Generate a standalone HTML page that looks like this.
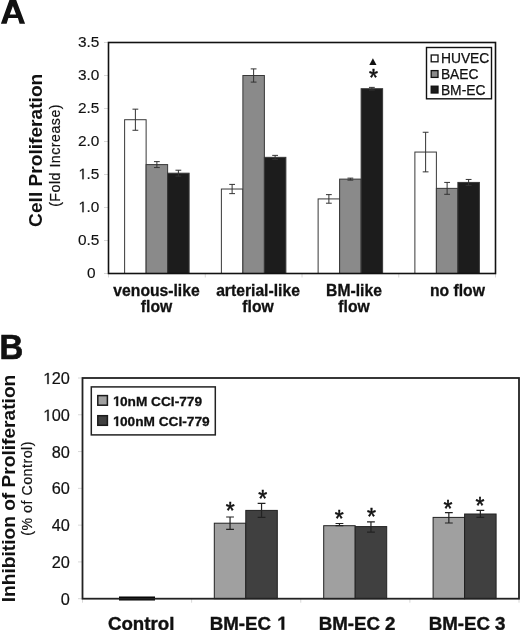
<!DOCTYPE html>
<html><head><meta charset="utf-8"><title>Figure</title>
<style>
html,body{margin:0;padding:0;background:#fff;width:520px;height:630px;overflow:hidden}
svg{display:block;font-family:"Liberation Sans", sans-serif;filter:grayscale(1)}
text{fill:#111}
</style></head><body>
<svg width="520" height="630" viewBox="0 0 520 630">
<path d="M9.6 -0.5H16L25.1 23.8H19.6L17.9 18.1H8.4L6.6 23.8H0.9Z M12.9 5.9L9.8 14.4H16.1Z" fill="#111" fill-rule="evenodd"/>
<line x1="104" y1="273.50" x2="108.5" y2="273.50" stroke="#d8d8d8" stroke-width="1"/>
<text x="87.04" y="278.25" font-size="15.4" stroke="#111" stroke-width="0.15">0</text>
<line x1="104" y1="240.50" x2="108.5" y2="240.50" stroke="#d8d8d8" stroke-width="1"/>
<text x="77.99" y="245.25" font-size="15.4" stroke="#111" stroke-width="0.15">0.5</text>
<line x1="104" y1="207.50" x2="108.5" y2="207.50" stroke="#d8d8d8" stroke-width="1"/>
<path d="M575 0V1237L257 1010V1180L590 1409H756V0Z" transform="translate(77.99 212.25) scale(0.007520 -0.007520)" fill="#111" vector-effect="non-scaling-stroke" stroke="#111" stroke-width="0.15"/><text x="86.56" y="212.25" font-size="15.4" stroke="#111" stroke-width="0.15">.0</text>
<line x1="104" y1="174.50" x2="108.5" y2="174.50" stroke="#d8d8d8" stroke-width="1"/>
<path d="M575 0V1237L257 1010V1180L590 1409H756V0Z" transform="translate(77.99 179.25) scale(0.007520 -0.007520)" fill="#111" vector-effect="non-scaling-stroke" stroke="#111" stroke-width="0.15"/><text x="86.56" y="179.25" font-size="15.4" stroke="#111" stroke-width="0.15">.5</text>
<line x1="104" y1="141.50" x2="108.5" y2="141.50" stroke="#d8d8d8" stroke-width="1"/>
<text x="77.99" y="146.25" font-size="15.4" stroke="#111" stroke-width="0.15">2.0</text>
<line x1="104" y1="108.50" x2="108.5" y2="108.50" stroke="#d8d8d8" stroke-width="1"/>
<text x="77.99" y="113.25" font-size="15.4" stroke="#111" stroke-width="0.15">2.5</text>
<line x1="104" y1="75.50" x2="108.5" y2="75.50" stroke="#d8d8d8" stroke-width="1"/>
<text x="77.99" y="80.25" font-size="15.4" stroke="#111" stroke-width="0.15">3.0</text>
<line x1="104" y1="42.50" x2="108.5" y2="42.50" stroke="#d8d8d8" stroke-width="1"/>
<text x="77.99" y="47.25" font-size="15.4" stroke="#111" stroke-width="0.15">3.5</text>
<line x1="108.50" y1="273.5" x2="108.50" y2="277.5" stroke="#d8d8d8" stroke-width="1"/>
<line x1="205.25" y1="273.5" x2="205.25" y2="277.5" stroke="#d8d8d8" stroke-width="1"/>
<line x1="302.00" y1="273.5" x2="302.00" y2="277.5" stroke="#d8d8d8" stroke-width="1"/>
<line x1="398.75" y1="273.5" x2="398.75" y2="277.5" stroke="#d8d8d8" stroke-width="1"/>
<line x1="495.50" y1="273.5" x2="495.50" y2="277.5" stroke="#d8d8d8" stroke-width="1"/>
<rect x="124.62" y="119.72" width="21.5" height="153.78" fill="#ffffff" stroke="#383838" stroke-width="1"/>
<path d="M132.47 109.16H138.28M135.38 109.16V130.28M132.47 130.28H138.28" stroke="#333" stroke-width="1" fill="none"/>
<rect x="146.12" y="164.60" width="21.5" height="108.90" fill="#8a8a8a" stroke="#383838" stroke-width="1"/>
<path d="M153.97 161.63H159.78M156.88 161.63V167.57M153.97 167.57H159.78" stroke="#333" stroke-width="1" fill="none"/>
<rect x="167.62" y="173.18" width="21.5" height="100.32" fill="#1c1c1c" stroke="#383838" stroke-width="1"/>
<path d="M175.47 170.21H181.28M178.38 170.21V176.15M175.47 176.15H181.28" stroke="#333" stroke-width="1" fill="none"/>
<rect x="221.38" y="189.02" width="21.5" height="84.48" fill="#ffffff" stroke="#383838" stroke-width="1"/>
<path d="M229.22 184.40H235.03M232.12 184.40V193.64M229.22 193.64H235.03" stroke="#333" stroke-width="1" fill="none"/>
<rect x="242.88" y="75.50" width="21.5" height="198.00" fill="#8a8a8a" stroke="#383838" stroke-width="1"/>
<path d="M250.72 68.90H256.52M253.62 68.90V82.10M250.72 82.10H256.52" stroke="#333" stroke-width="1" fill="none"/>
<rect x="264.38" y="157.34" width="21.5" height="116.16" fill="#1c1c1c" stroke="#383838" stroke-width="1"/>
<path d="M272.23 155.36H278.02M275.12 155.36V159.32M272.23 159.32H278.02" stroke="#333" stroke-width="1" fill="none"/>
<rect x="318.12" y="198.92" width="21.5" height="74.58" fill="#ffffff" stroke="#383838" stroke-width="1"/>
<path d="M325.98 194.63H331.77M328.88 194.63V203.21M325.98 203.21H331.77" stroke="#333" stroke-width="1" fill="none"/>
<rect x="339.62" y="179.12" width="21.5" height="94.38" fill="#8a8a8a" stroke="#383838" stroke-width="1"/>
<path d="M347.48 178.13H353.27M350.38 178.13V180.11M347.48 180.11H353.27" stroke="#333" stroke-width="1" fill="none"/>
<rect x="361.12" y="88.70" width="21.5" height="184.80" fill="#1c1c1c" stroke="#383838" stroke-width="1"/>
<path d="M368.98 87.38H374.77M371.88 87.38V90.02M368.98 90.02H374.77" stroke="#333" stroke-width="1" fill="none"/>
<rect x="414.88" y="152.06" width="21.5" height="121.44" fill="#ffffff" stroke="#383838" stroke-width="1"/>
<path d="M422.73 132.26H428.52M425.62 132.26V171.86M422.73 171.86H428.52" stroke="#333" stroke-width="1" fill="none"/>
<rect x="436.38" y="188.36" width="21.5" height="85.14" fill="#8a8a8a" stroke="#383838" stroke-width="1"/>
<path d="M444.23 182.42H450.02M447.12 182.42V194.30M444.23 194.30H450.02" stroke="#333" stroke-width="1" fill="none"/>
<rect x="457.88" y="182.42" width="21.5" height="91.08" fill="#1c1c1c" stroke="#383838" stroke-width="1"/>
<path d="M465.73 179.45H471.52M468.62 179.45V185.39M465.73 185.39H471.52" stroke="#333" stroke-width="1" fill="none"/>
<rect x="108.5" y="42.5" width="387.0" height="231.0" fill="none" stroke="#111" stroke-width="1.6"/>
<path d="M369.3 65H376.5L372.9 58.2Z" fill="#111"/>
<text x="373.6" y="86.0" font-size="23" text-anchor="middle" stroke="#111" stroke-width="0.5">*</text>
<rect x="426.5" y="47.5" width="65" height="51.3" fill="#fff" stroke="#111" stroke-width="1.4"/>
<rect x="431.2" y="55.00" width="6.8" height="6.8" fill="#ffffff" stroke="#111" stroke-width="1.3"/>
<text x="440.9" y="63.30" font-size="13.85" letter-spacing="0" stroke="#111" stroke-width="0.25">HUVEC</text>
<rect x="431.2" y="70.60" width="6.8" height="6.8" fill="#8a8a8a" stroke="#111" stroke-width="1.3"/>
<text x="440.9" y="78.90" font-size="13.85" letter-spacing="0" stroke="#111" stroke-width="0.25">BAEC</text>
<rect x="431.2" y="86.20" width="6.8" height="6.8" fill="#1c1c1c" stroke="#111" stroke-width="1.3"/>
<text x="440.9" y="94.50" font-size="13.85" letter-spacing="0" stroke="#111" stroke-width="0.25">BM-EC</text>
<text x="156.50" y="295.6" font-size="15.7" font-weight="bold" text-anchor="middle" stroke="#111" stroke-width="0.3">venous-like</text>
<text x="156.50" y="312.1" font-size="15.7" font-weight="bold" text-anchor="middle" stroke="#111" stroke-width="0.3">flow</text>
<text x="258.00" y="295.6" font-size="15.7" font-weight="bold" text-anchor="middle" stroke="#111" stroke-width="0.3">arterial-like</text>
<text x="258.00" y="312.1" font-size="15.7" font-weight="bold" text-anchor="middle" stroke="#111" stroke-width="0.3">flow</text>
<text x="354.00" y="295.6" font-size="15.7" font-weight="bold" text-anchor="middle" stroke="#111" stroke-width="0.3">BM-like</text>
<text x="354.00" y="312.1" font-size="15.7" font-weight="bold" text-anchor="middle" stroke="#111" stroke-width="0.3">flow</text>
<text x="457.40" y="295.6" font-size="15.7" font-weight="bold" text-anchor="middle" stroke="#111" stroke-width="0.3">no flow</text>
<text transform="translate(41.7 150.3) rotate(-90)" font-size="19.15" font-weight="bold" text-anchor="middle">Cell Proliferation</text>
<text transform="translate(59.6 155.4) rotate(-90)" font-size="14.2" letter-spacing="0.5" stroke="#111" stroke-width="0.2" text-anchor="middle">(Fold Increase)</text>
<text transform="translate(-0.5 359.1) scale(0.92 1)" font-size="35.8" font-weight="bold" stroke="#111" stroke-width="0.7">B</text>
<line x1="78" y1="598.70" x2="82.5" y2="598.70" stroke="#d8d8d8" stroke-width="1"/>
<text x="60.83" y="604.80" font-size="16.3" stroke="#111" stroke-width="0.2">0</text>
<line x1="78" y1="561.92" x2="82.5" y2="561.92" stroke="#d8d8d8" stroke-width="1"/>
<text x="51.77" y="568.02" font-size="16.3" stroke="#111" stroke-width="0.2">20</text>
<line x1="78" y1="525.13" x2="82.5" y2="525.13" stroke="#d8d8d8" stroke-width="1"/>
<text x="51.77" y="531.23" font-size="16.3" stroke="#111" stroke-width="0.2">40</text>
<line x1="78" y1="488.35" x2="82.5" y2="488.35" stroke="#d8d8d8" stroke-width="1"/>
<text x="51.77" y="494.45" font-size="16.3" stroke="#111" stroke-width="0.2">60</text>
<line x1="78" y1="451.57" x2="82.5" y2="451.57" stroke="#d8d8d8" stroke-width="1"/>
<text x="51.77" y="457.67" font-size="16.3" stroke="#111" stroke-width="0.2">80</text>
<line x1="78" y1="414.78" x2="82.5" y2="414.78" stroke="#d8d8d8" stroke-width="1"/>
<path d="M575 0V1237L257 1010V1180L590 1409H756V0Z" transform="translate(42.70 420.88) scale(0.007959 -0.007959)" fill="#111" vector-effect="non-scaling-stroke" stroke="#111" stroke-width="0.2"/><text x="51.77" y="420.88" font-size="16.3" stroke="#111" stroke-width="0.2">00</text>
<line x1="78" y1="378.00" x2="82.5" y2="378.00" stroke="#d8d8d8" stroke-width="1"/>
<path d="M575 0V1237L257 1010V1180L590 1409H756V0Z" transform="translate(42.70 384.10) scale(0.007959 -0.007959)" fill="#111" vector-effect="non-scaling-stroke" stroke="#111" stroke-width="0.2"/><text x="51.77" y="384.10" font-size="16.3" stroke="#111" stroke-width="0.2">20</text>
<line x1="82.50" y1="598.7" x2="82.50" y2="602.7" stroke="#d8d8d8" stroke-width="1"/>
<line x1="191.62" y1="598.7" x2="191.62" y2="602.7" stroke="#d8d8d8" stroke-width="1"/>
<line x1="300.75" y1="598.7" x2="300.75" y2="602.7" stroke="#d8d8d8" stroke-width="1"/>
<line x1="409.88" y1="598.7" x2="409.88" y2="602.7" stroke="#d8d8d8" stroke-width="1"/>
<line x1="519.00" y1="598.7" x2="519.00" y2="602.7" stroke="#d8d8d8" stroke-width="1"/>
<rect x="214.30" y="523.20" width="31.5" height="75.50" fill="#a0a0a0" stroke="#222" stroke-width="1"/>
<path d="M226.15 517.00H233.95M230.05 517.00V529.40M226.15 529.40H233.95" stroke="#222" stroke-width="1.2" fill="none"/>
<text x="230.3" y="518.70" font-size="23" text-anchor="middle" stroke="#111" stroke-width="0.5">*</text>
<rect x="245.80" y="510.40" width="31.5" height="88.30" fill="#404040" stroke="#222" stroke-width="1"/>
<path d="M257.65 503.40H265.45M261.55 503.40V517.40M257.65 517.40H265.45" stroke="#222" stroke-width="1.2" fill="none"/>
<text x="262.8" y="506.60" font-size="23" text-anchor="middle" stroke="#111" stroke-width="0.5">*</text>
<rect x="323.70" y="525.70" width="31.5" height="73.00" fill="#a0a0a0" stroke="#222" stroke-width="1"/>
<path d="M335.55 523.50H343.35M339.45 523.50V525.70M335.55 525.70H343.35" stroke="#222" stroke-width="1.2" fill="none"/>
<text x="339.3" y="526.70" font-size="23" text-anchor="middle" stroke="#111" stroke-width="0.5">*</text>
<rect x="355.20" y="526.60" width="31.5" height="72.10" fill="#404040" stroke="#222" stroke-width="1"/>
<path d="M367.05 521.90H374.85M370.95 521.90V532.20M367.05 532.20H374.85" stroke="#222" stroke-width="1.2" fill="none"/>
<text x="371.4" y="525.40" font-size="23" text-anchor="middle" stroke="#111" stroke-width="0.5">*</text>
<rect x="433.10" y="517.40" width="31.5" height="81.30" fill="#a0a0a0" stroke="#222" stroke-width="1"/>
<path d="M444.95 512.60H452.75M448.85 512.60V523.00M444.95 523.00H452.75" stroke="#222" stroke-width="1.2" fill="none"/>
<text x="448" y="517.00" font-size="23" text-anchor="middle" stroke="#111" stroke-width="0.5">*</text>
<rect x="464.60" y="514.00" width="31.5" height="84.70" fill="#404040" stroke="#222" stroke-width="1"/>
<path d="M476.45 510.30H484.25M480.35 510.30V517.40M476.45 517.40H484.25" stroke="#222" stroke-width="1.2" fill="none"/>
<text x="480.1" y="514.30" font-size="23" text-anchor="middle" stroke="#111" stroke-width="0.5">*</text>
<rect x="119" y="596.5" width="36" height="4" fill="#000"/>
<rect x="82.5" y="378" width="436.5" height="220.70000000000005" fill="none" stroke="#222" stroke-width="1.8"/>
<rect x="91.3" y="386.9" width="124" height="48" fill="#fff" stroke="#222" stroke-width="1.5"/>
<rect x="97.8" y="395.60" width="9.6" height="9.6" fill="#a0a0a0" stroke="#1a1a1a" stroke-width="1.5"/>
<path d="M588 0V1170L250 959V1180L603 1409H869V0Z" transform="translate(112.30 405.90) scale(0.006689 -0.006689)" fill="#111" vector-effect="non-scaling-stroke" stroke="#111" stroke-width="0.3"/><text x="119.92" y="405.90" font-size="13.7" font-weight="bold" stroke="#111" stroke-width="0.3">0nM CCI-779</text>
<rect x="97.8" y="415.70" width="9.6" height="9.6" fill="#404040" stroke="#1a1a1a" stroke-width="1.5"/>
<path d="M588 0V1170L250 959V1180L603 1409H869V0Z" transform="translate(112.30 426.00) scale(0.006689 -0.006689)" fill="#111" vector-effect="non-scaling-stroke" stroke="#111" stroke-width="0.3"/><text x="119.92" y="426.00" font-size="13.7" font-weight="bold" stroke="#111" stroke-width="0.3">00nM CCI-779</text>
<text x="107.9" y="629.7" font-size="18.7" font-weight="bold" stroke="#111" stroke-width="0.4">Control</text>
<text x="209.76" y="629.70" font-size="18.7" font-weight="bold" stroke="#111" stroke-width="0.4">BM-EC </text><path d="M588 0V1170L250 959V1180L603 1409H869V0Z" transform="translate(276.24 629.70) scale(0.009131 -0.009131)" fill="#111" vector-effect="non-scaling-stroke" stroke="#111" stroke-width="0.4"/>
<text x="318.66" y="629.70" font-size="18.7" font-weight="bold" stroke="#111" stroke-width="0.4">BM-EC 2</text>
<text x="428.66" y="629.70" font-size="18.7" font-weight="bold" stroke="#111" stroke-width="0.4">BM-EC 3</text>
<text transform="translate(14.6 488.5) rotate(-90)" font-size="19.15" font-weight="bold" text-anchor="middle">Inhibition of Proliferation</text>
<text transform="translate(32.4 488.4) rotate(-90)" font-size="14.2" letter-spacing="0.52" stroke="#111" stroke-width="0.2" text-anchor="middle">(% of Control)</text>
</svg>
</body></html>
